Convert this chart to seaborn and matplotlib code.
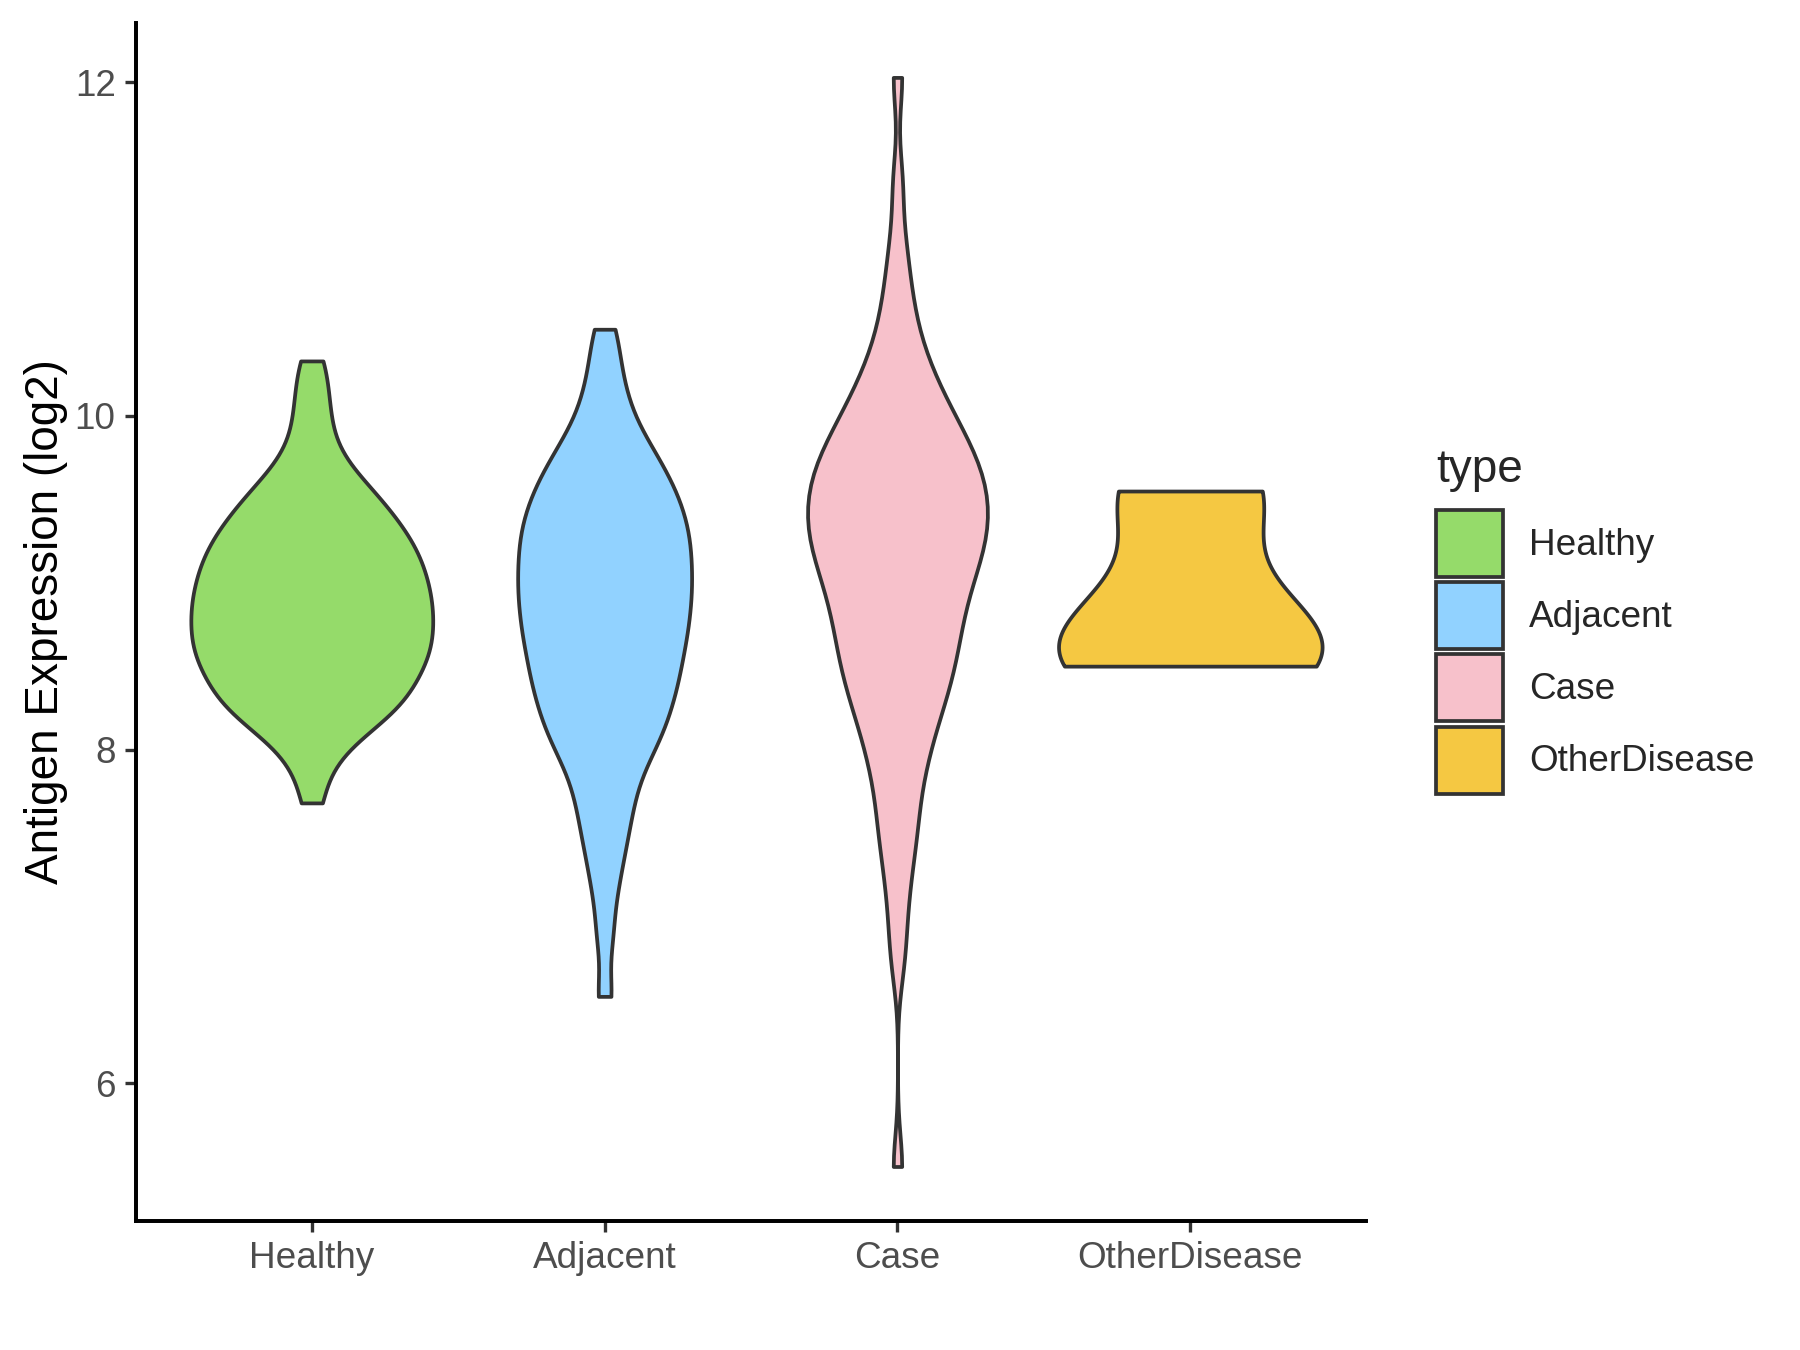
import pandas as pd
import matplotlib.pyplot as plt
import seaborn as sns
from matplotlib.patches import Patch

categories = ["Healthy", "Adjacent", "Case", "OtherDisease"]
colors = ["#95DB6A", "#91D2FF", "#F7C1CB", "#F5C842"]

# expression values per group (log2)
healthy = [7.68, 7.86, 7.96, 8.04, 8.09, 8.13, 8.16, 8.19, 8.22, 8.245, 8.27, 8.29, 8.315,
           8.34, 8.36, 8.38, 8.405, 8.43, 8.45, 8.47, 8.49, 8.51, 8.53, 8.55, 8.57, 8.59,
           8.605, 8.62, 8.64, 8.66, 8.68, 8.70, 8.72, 8.74, 8.755, 8.77, 8.79, 8.81, 8.83,
           8.85, 8.87, 8.89, 8.905, 8.92, 8.94, 8.96, 8.98, 9.00, 9.02, 9.04, 9.06, 9.08,
           9.10, 9.12, 9.14, 9.16, 9.18, 9.20, 9.225, 9.25, 9.27, 9.29, 9.315, 9.34, 9.365,
           9.39, 9.42, 9.45, 9.48, 9.51, 9.545, 9.58, 9.625, 9.67, 9.74, 9.82, 9.93, 10.05,
           10.18, 10.33]
adjacent = [6.52, 6.88, 7.12, 7.28, 7.40, 7.50, 7.59, 7.67, 7.745, 7.82, 7.88, 7.94, 7.985,
            8.03, 8.07, 8.11, 8.145, 8.18, 8.215, 8.25, 8.285, 8.32, 8.35, 8.38, 8.41, 8.44,
            8.47, 8.50, 8.53, 8.56, 8.59, 8.62, 8.645, 8.67, 8.70, 8.73, 8.755, 8.78, 8.805,
            8.83, 8.86, 8.89, 8.915, 8.94, 8.965, 8.99, 9.015, 9.04, 9.065, 9.09, 9.12, 9.15,
            9.175, 9.20, 9.225, 9.25, 9.275, 9.30, 9.33, 9.36, 9.385, 9.41, 9.44, 9.47, 9.50,
            9.53, 9.56, 9.59, 9.625, 9.66, 9.70, 9.74, 9.78, 9.82, 9.88, 9.94, 10.02, 10.11,
            10.22, 10.36, 10.52]
case = [5.50, 6.72, 6.95, 7.15, 7.30, 7.42, 7.52, 7.61, 7.70, 7.80, 7.87, 7.94, 8.00, 8.06,
        8.115, 8.17, 8.215, 8.26, 8.30, 8.34, 8.375, 8.41, 8.45, 8.49, 8.52, 8.55, 8.585,
        8.62, 8.65, 8.68, 8.71, 8.74, 8.775, 8.81, 8.84, 8.87, 8.895, 8.92, 8.95, 8.98,
        9.005, 9.03, 9.06, 9.09, 9.11, 9.13, 9.155, 9.18, 9.20, 9.22, 9.245, 9.27, 9.29,
        9.31, 9.33, 9.35, 9.375, 9.40, 9.42, 9.44, 9.46, 9.48, 9.50, 9.52, 9.545, 9.57,
        9.59, 9.61, 9.635, 9.66, 9.68, 9.70, 9.725, 9.75, 9.775, 9.80, 9.825, 9.85, 9.88,
        9.91, 9.945, 9.98, 10.01, 10.04, 10.08, 10.12, 10.17, 10.22, 10.275, 10.33, 10.40,
        10.49, 10.59, 10.71, 10.86, 11.05, 11.40, 12.03]
other = [8.50, 8.70, 9.55]
groups = [healthy, adjacent, case, other]

# per-violin look (ggplot area scaling approximated by widths)
widths = [0.826, 0.594, 0.614, 0.90]
bw_adj = [0.6, 0.45, 0.46, 0.78]

sns.set_style("ticks")
plt.rcParams["font.family"] = ["Liberation Sans", "DejaVu Sans"]

fig = plt.figure(figsize=(12, 9), dpi=150)
ax = fig.add_axes([0.0756, 0.0956, 0.6833, 0.8874])

for name, vals, col, w, bw in zip(categories, groups, colors, widths, bw_adj):
    sns.violinplot(x=[name] * len(vals), y=vals, order=categories, color=col,
                   saturation=1, cut=0, inner=None, width=w, bw_adjust=bw,
                   linewidth=1.8, linecolor="#333333", ax=ax)

allvals = healthy + adjacent + case + other
lo, hi = min(allvals), max(allvals)
pad = 0.05 * (hi - lo)
ax.set_ylim(lo - pad, hi + pad)
ax.set_xlim(-0.6, 3.6)
ax.set_yticks([6, 8, 10, 12])
ax.set_xlabel("")
ax.set_ylabel("Antigen Expression (log2)", fontsize=22, color="black", labelpad=3)
ax.tick_params(axis="both", labelsize=17.7, labelcolor="#4D4D4D", color="#333333",
               length=5.3, width=1.6, pad=4.5)
for side in ["top", "right"]:
    ax.spines[side].set_visible(False)
for side in ["left", "bottom"]:
    ax.spines[side].set_linewidth(1.9)
    ax.spines[side].set_color("black")

handles = [Patch(facecolor=c, edgecolor="#333333", linewidth=1.8, label=n)
           for n, c in zip(categories, colors)]
fig.legend(handles=handles, loc="upper left",
           bbox_to_anchor=(1436 / 1800, 1 - 510 / 1350), frameon=False,
           fontsize=17.7, handlelength=1.82, handleheight=2.42,
           labelspacing=0.14, handletextpad=0.7, borderpad=0, borderaxespad=0)
fig.text(1436 / 1800, 1 - 482 / 1350, "type", fontsize=22, ha="left", va="baseline")

fig.savefig("out.png", dpi=150)
